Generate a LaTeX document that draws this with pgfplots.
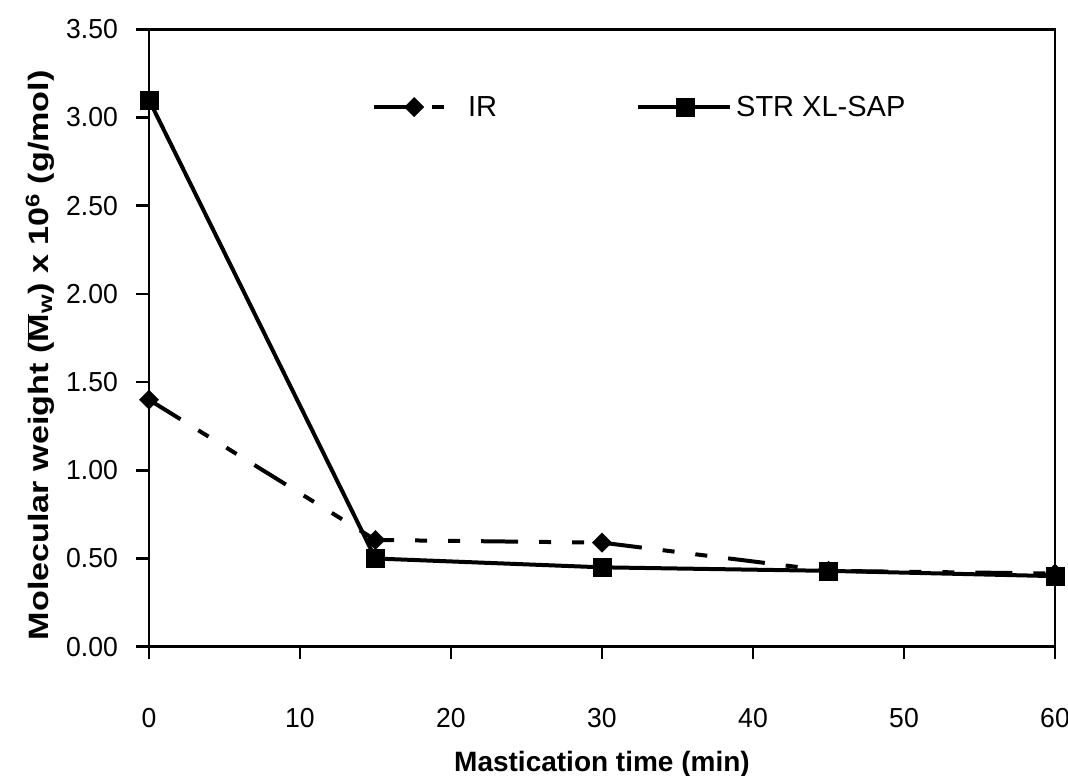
\documentclass[border=0pt]{standalone}
\usepackage{fontspec}
\setmainfont{Liberation Sans}
\newfontfamily\ylabfont{Liberation Sans}[FakeStretch=1.22]
\newfontfamily\tickfont{Liberation Sans}[FakeStretch=0.965]
\usepackage{pgfplots}
\pgfplotsset{compat=1.18}
\begin{document}
\begin{tikzpicture}[x=1pt,y=1pt]
\path[use as bounding box] (0,0) rectangle (1068,-776);
\begin{axis}[
  at={(149pt,-646.7pt)}, anchor=south west,
  scale only axis, width=906pt, height=617.4pt,
  xmin=0, xmax=60, ymin=0, ymax=3.5,
  xtick={0,10,20,30,40,50,60},
  ytick={0,0.5,1,1.5,2,2.5,3,3.5},
  xtick pos=left, ytick pos=left, tick align=outside,
  major tick length=12.5pt,
  axis line style={line width=2.7pt},
  every tick/.style={black, line width=2.5pt},
  tick label style={font=\tickfont\fontsize{27.5}{32}\selectfont},
  /pgf/number format/assume math mode=true,
  yticklabel style={/pgf/number format/fixed, /pgf/number format/fixed zerofill, /pgf/number format/precision=2},
  yticklabel style={anchor=east, inner sep=0pt, xshift=-18.5pt},
  xticklabel style={anchor=center, inner sep=0pt, yshift=-58.5pt},
  every axis y label/.style={at={(axis description cs:-0.1203,0.472)}, rotate=90, anchor=center},
  every axis x label/.style={at={(axis description cs:0.5,-0.19)}, anchor=center},
  xlabel style={font=\bfseries\fontsize{28}{32}\selectfont},
  ylabel style={font=\ylabfont\bfseries\fontsize{28}{32}\selectfont},
  xlabel={Mastication time (min)},
  ylabel={Molecular weight (\ensuremath{\overline{\mbox{M}}}\textsubscript{w}) x 10\textsuperscript{6} (g/mol)},
  legend columns=2,
  legend style={draw=none, fill=none, inner sep=0pt, at={(axis description cs:0.2461,0.874)}, anchor=west,
    font=\fontsize{29}{33}\selectfont, nodes={inner sep=0pt},
    /tikz/column 2/.style={column sep=139pt}},
]
\addplot[black, line width=4pt, dash pattern=on 37pt off 21pt on 12pt off 21pt on 12pt off 21pt,
  mark=square*, mark size=6.8pt, mark options={solid, rotate=45, line width=0.5pt},
  legend image code/.code={
    \draw[mark repeat=2, mark phase=2] plot coordinates {(0pt,0pt) (40pt,0pt) (70pt,0pt)};
    \path[draw=none, fill=none] (0pt,0pt) -- (94pt,0pt);
  }]
  coordinates {(0,1.40) (15,0.605) (30,0.59) (45,0.43) (60,0.415)};
\addlegendentry{IR}
\addplot[black, line width=4pt, solid,
  mark=square*, mark size=9pt, mark options={solid, line width=0.5pt},
  legend image code/.code={
    \draw[mark repeat=2, mark phase=2] plot coordinates {(0pt,0pt) (47pt,0pt) (92pt,0pt)};
    \path[draw=none, fill=none] (0pt,0pt) -- (98pt,0pt);
  }]
  coordinates {(0,3.10) (15,0.50) (30,0.45) (45,0.43) (60,0.40)};
\addlegendentry{STR XL-SAP}
\end{axis}
\end{tikzpicture}
\end{document}
